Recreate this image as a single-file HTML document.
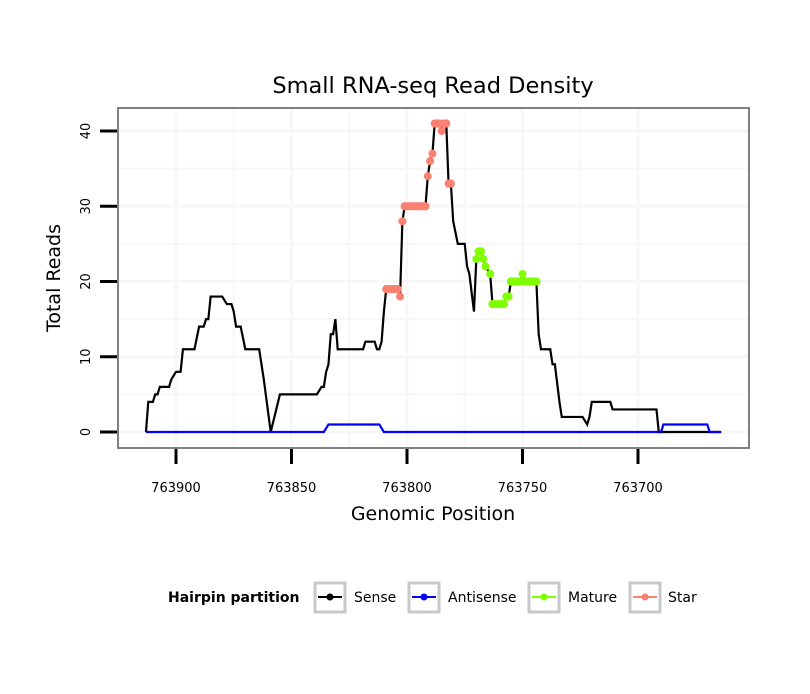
<!DOCTYPE html>
<html><head><meta charset="utf-8"><style>
body{margin:0;background:#fff;font-family:"DejaVu Sans","Liberation Sans",sans-serif}
svg text{font-family:"DejaVu Sans","Liberation Sans",sans-serif}
</style></head><body>
<svg id="c" width="810" height="690" xmlns="http://www.w3.org/2000/svg">
<rect width="810" height="690" fill="#fff"/>
<g id="grid"></g>
<rect x="118" y="108" width="631" height="340" fill="none" stroke="#808080" stroke-width="2"/>
<g id="marks"></g>
<g id="axes"></g>
<text x="433" y="93" font-size="22.5" text-anchor="middle">Small RNA-seq Read Density</text>
<text x="433" y="520" font-size="19" text-anchor="middle">Genomic Position</text>
<text transform="translate(60,278) rotate(-90)" font-size="19" text-anchor="middle">Total Reads</text>
<g>
<text x="168" y="602" font-size="14" font-weight="bold">Hairpin partition</text>
<g><rect x="315" y="583" width="30" height="29" fill="#fff" stroke="#c8c8c8" stroke-width="3"/><line x1="318" y1="597" x2="342" y2="597" stroke="#000" stroke-width="2"/><circle cx="330" cy="597" r="3.5" fill="#000"/><text x="354" y="602" font-size="14">Sense</text></g>
<g><rect x="409" y="583" width="30" height="29" fill="#fff" stroke="#c8c8c8" stroke-width="3"/><line x1="412" y1="597" x2="436" y2="597" stroke="#0000ff" stroke-width="2"/><circle cx="424" cy="597" r="3.5" fill="#0000ff"/><text x="448" y="602" font-size="14">Antisense</text></g>
<g><rect x="529" y="583" width="30" height="29" fill="#fff" stroke="#c8c8c8" stroke-width="3"/><line x1="532" y1="597" x2="556" y2="597" stroke="#7fff00" stroke-width="2"/><circle cx="544" cy="597" r="3.5" fill="#7fff00"/><text x="568" y="602" font-size="14">Mature</text></g>
<g><rect x="630" y="583" width="30" height="29" fill="#fff" stroke="#c8c8c8" stroke-width="3"/><line x1="633" y1="597" x2="657" y2="597" stroke="#fa8072" stroke-width="2"/><circle cx="645" cy="597" r="3.5" fill="#fa8072"/><text x="668" y="602" font-size="14">Star</text></g>
</g>
</svg>
<script>
const xTicks=[763900,763850,763800,763750,763700];
const yTicks=[0,10,20,30,40];
const sensePos=[763913,763912,763910,763909,763908,763907,763903,763902,763900,763898,763897,763892,763890,763888,763887,763886,763885,763880,763878,763876,763875,763874,763872,763870,763864,763862,763859,763855,763839,763837,763836,763835,763834,763833,763832,763831,763830,763819,763818,763814,763813,763812,763811,763810,763809,763804,763803,763802,763801,763792,763791,763790,763789,763788,763787,763786,763785,763784,763783,763782,763781,763780,763778,763775,763774,763773,763771,763770,763769,763768,763767,763766,763764,763763,763758,763757,763756,763755,763751,763750,763749,763744,763743,763742,763738,763737,763736,763734,763733,763724,763722,763721,763720,763712,763711,763692,763691,763664];
const senseVal=[0,4,4,5,5,6,6,7,8,8,11,11,14,14,15,15,18,18,17,17,16,14,14,11,11,7,0,5,5,6,6,8,9,13,13,15,11,11,12,12,11,11,12,16,19,19,18,28,30,30,34,36,37,41,41,41,40,41,41,33,33,28,25,25,22,21,16,23,24,24,23,22,21,17,17,18,18,20,20,21,20,20,13,11,11,9,9,4,2,2,1,2,4,4,3,3,0,0];
const antiPos=[763913,763836,763834,763812,763810,763690,763689,763670,763669,763664];
const antiVal=[0,0,1,1,0,0,1,1,0,0];
const starRange=[763809,763781];
const matureRange=[763770,763744];
const X=p=>176+(763900-p)*2.31;
const Y=v=>432-v*7.525;
const NS="http://www.w3.org/2000/svg";
function mk(t,a,parent){const e=document.createElementNS(NS,t);for(const k in a)e.setAttribute(k,a[k]);document.getElementById(parent).appendChild(e);return e;}
[763875,763825,763775,763725].concat(xTicks).forEach(p=>{const e=mk('line',{x1:X(p),x2:X(p),y1:109,y2:447,stroke:'#f7f7f7','stroke-width':xTicks.includes(p)?3:2},'grid');

});
[5,15,25,35].concat(yTicks).forEach(v=>{const e=mk('line',{x1:119,x2:748,y1:Y(v),y2:Y(v),stroke:'#f7f7f7','stroke-width':yTicks.includes(v)?3:2},'grid');

});
xTicks.forEach(p=>{const l=mk('line',{x1:X(p),x2:X(p),y1:449,y2:464,stroke:'#000','stroke-width':3},'axes');


const t=mk('text',{x:X(p),y:492,'font-size':13,'text-anchor':'middle'},'axes');t.textContent=p;

});
yTicks.forEach(v=>{const l=mk('line',{x1:100,x2:117,y1:Y(v),y2:Y(v),stroke:'#000','stroke-width':3},'axes');


const t=mk('text',{transform:`translate(90,${Y(v)}) rotate(-90)`,'font-size':13,'text-anchor':'middle'},'axes');t.textContent=v;

});
const sl=mk('polyline',{points:sensePos.map((p,i)=>X(p)+','+Y(senseVal[i])).join(' '),fill:'none',stroke:'#000','stroke-width':2.2},'marks');


const al=mk('polyline',{points:antiPos.map((p,i)=>X(p)+','+Y(antiVal[i])).join(' '),fill:'none',stroke:'#0000ff','stroke-width':2.2},'marks');


function overlay(range,color,name){
 for(let i=0;i<sensePos.length;i++){const p=sensePos[i];if(p>range[0]||p<range[1])continue;
  const c=mk('circle',{cx:X(p),cy:Y(senseVal[i]),r:4,fill:color},'marks');
  
  
  const j=i+1;if(j<sensePos.length&&sensePos[j]>=range[1]&&senseVal[j]===senseVal[i]){
   const s=mk('line',{x1:X(p),x2:X(sensePos[j]),y1:Y(senseVal[i]),y2:Y(senseVal[i]),stroke:color,'stroke-width':8,'stroke-linecap':'round'},'marks');
   
   }
 }}
overlay(starRange,'#fa8072','star');
overlay(matureRange,'#7fff00','mature');
</script>
</body></html>
